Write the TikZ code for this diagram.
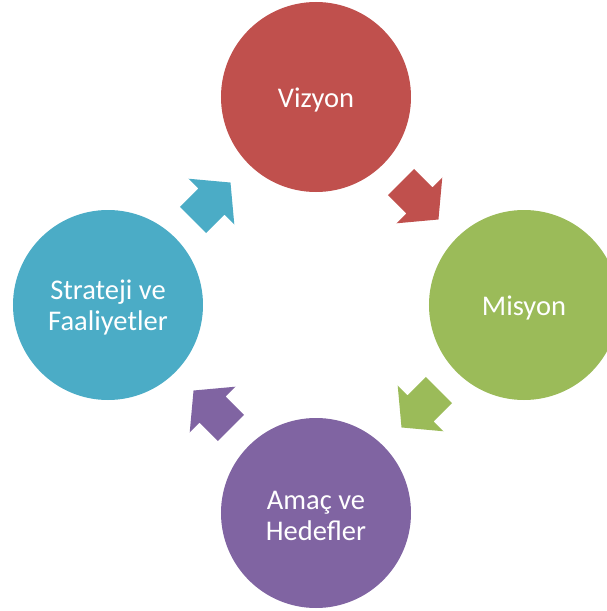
\documentclass[tikz,border=0pt]{standalone}
\usepackage{fontspec}
\setmainfont{Carlito}
\definecolor{cRed}{HTML}{C0504D}
\definecolor{cGreen}{HTML}{9BBB59}
\definecolor{cPurple}{HTML}{8064A2}
\definecolor{cBlue}{HTML}{4BACC6}
\tikzset{
  stage/.style={circle, minimum size=190pt, inner sep=0pt},
  stagetext/.style={text=white, align=center, inner sep=0pt,
    font=\fontsize{28.5}{31}\selectfont},
  blockarrow/.style={fill=#1, draw=none}
}
\begin{document}
\begin{tikzpicture}[x=1pt,y=1pt]
  \useasboundingbox (-316,-306) rectangle (291,305);
  % four stages of the cycle
  \node[stage, fill=cRed]    (viz) at (0,208)  {};
  \node[stage, fill=cGreen]  (mis) at (208,0)  {};
  \node[stage, fill=cPurple] (ama) at (0,-208) {};
  \node[stage, fill=cBlue]   (str) at (-208,0) {};
  \node[stagetext] (viz-t) at ([yshift=-2.5pt]viz.center) {Vizyon};
  \node[stagetext] (mis-t) at ([yshift=-2.5pt]mis.center) {Misyon};
  \node[stagetext] (ama-t) at ([yshift=-2.5pt]ama.center) {Ama\c{c} ve\\Hedefler};
  \node[stagetext] (str-t) at ([yshift=-2.5pt]str.center) {Strateji ve\\Faaliyetler};
  % block arrows between consecutive stages, clockwise
  \foreach \k/\c in {0/cRed,1/cGreen,2/cPurple,3/cBlue}{
    \fill[blockarrow=\c, rotate=-90*\k, shift={(55.35:149.5)}, rotate=-45]
      (0,18.5) -- (26,18.5) -- (26,32.4) -- (53,0) -- (26,-32.4)
      -- (26,-18.5) -- (0,-18.5) -- cycle;
  }
\end{tikzpicture}
\end{document}
